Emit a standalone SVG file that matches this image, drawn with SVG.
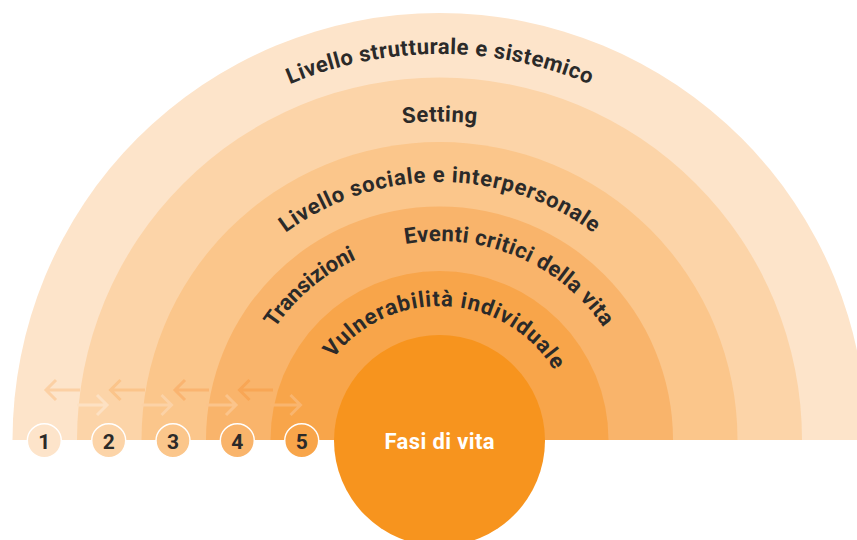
<svg xmlns="http://www.w3.org/2000/svg" xmlns:xlink="http://www.w3.org/1999/xlink" width="857" height="540" viewBox="0 0 857 540">
<style>
.lbl{font-family:Roboto,"Liberation Sans",sans-serif;font-weight:700;font-size:22px;fill:#2b2a29;}
.num{font-family:Roboto,"Liberation Sans",sans-serif;font-weight:700;font-size:21px;fill:#2b2a29;text-anchor:middle;}
.white{fill:#ffffff;}
.arr{fill:none;stroke-width:3;}
.ncirc{stroke:#ffffff;stroke-width:1.5;}
</style>
<defs>
<path id="p1" d="M 53.5,440 A 386 386 0 0 1 825.5,440"/>
<path id="p2" d="M 121,440 A 318.5 318.5 0 0 1 758,440"/>
<path id="p3" d="M 181.5,440 A 258 258 0 0 1 697.5,440"/>
<path id="p4" d="M 240.5,440 A 199 199 0 0 1 638.5,440"/>
<path id="p5" d="M 305.5,440 A 134 134 0 0 1 573.5,440"/>
</defs>
<rect width="857" height="540" fill="#ffffff"/>
<g id="band1"><path d="M 12.5,440 A 427 427 0 0 1 866.5,440 Z" fill="#fde4ca"/>
<text class="lbl"><textPath xlink:href="#p1" href="#p1" startOffset="606.3" text-anchor="middle" textLength="308" lengthAdjust="spacing">Livello strutturale e sistemico</textPath></text></g>
<g id="band2"><path d="M 77,440 A 362.5 362.5 0 0 1 802,440 Z" fill="#fcd4a8"/>
<text class="lbl"><textPath xlink:href="#p2" href="#p2" startOffset="500.3" text-anchor="middle" textLength="74" lengthAdjust="spacing">Setting</textPath></text></g>
<g id="band3"><path d="M 141.5,440 A 298 298 0 0 1 737.5,440 Z" fill="#fbc68b"/>
<text class="lbl"><textPath xlink:href="#p3" href="#p3" startOffset="405.3" text-anchor="middle" textLength="330" lengthAdjust="spacing">Livello sociale e interpersonale</textPath></text></g>
<g id="band4"><path d="M 206,440 A 233.5 233.5 0 0 1 673,440 Z" fill="#f9b46b"/>
<text class="lbl"><textPath xlink:href="#p4" href="#p4" startOffset="172.5" text-anchor="middle" textLength="108" lengthAdjust="spacing">Transizioni</textPath></text>
<text class="lbl"><textPath xlink:href="#p4" href="#p4" startOffset="391.5" text-anchor="middle" textLength="227" lengthAdjust="spacing">Eventi critici della vita</textPath></text></g>
<g id="band5"><path d="M 270.5,440 A 169 169 0 0 1 608.5,440 Z" fill="#f8a54a"/>
<text class="lbl"><textPath xlink:href="#p5" href="#p5" startOffset="217.5" text-anchor="middle" textLength="260" lengthAdjust="spacing">Vulnerabilità individuale</textPath></text></g>
<g id="core"><circle cx="439.5" cy="440.5" r="105.5" fill="#f7941e"/>
<text class="lbl white" x="439.5" y="449" text-anchor="middle" textLength="110" lengthAdjust="spacing">Fasi di vita</text></g>
<g id="connectors">
<g stroke="#fcd0a4" class="arr"><path d="M 46,390 H 80 M 56,380 L 46,390 L 56,400"/></g>
<g stroke="#fbc48a" class="arr"><path d="M 110.5,390 H 145 M 120.5,380 L 110.5,390 L 120.5,400"/></g>
<g stroke="#fab470" class="arr"><path d="M 175,390 H 209 M 185,380 L 175,390 L 185,400"/></g>
<g stroke="#f8a655" class="arr"><path d="M 239.5,390 H 273 M 249.5,380 L 239.5,390 L 249.5,400"/></g>
<g stroke="#fde1c3" class="arr"><path d="M 77,405 H 107 M 97,395 L 107,405 L 97,415"/></g>
<g stroke="#fcd2a6" class="arr"><path d="M 141.5,405 H 171.5 M 161.5,395 L 171.5,405 L 161.5,415"/></g>
<g stroke="#fbc48b" class="arr"><path d="M 206,405 H 236 M 226,395 L 236,405 L 226,415"/></g>
<g stroke="#f9b56e" class="arr"><path d="M 270.5,405 H 300.5 M 290.5,395 L 300.5,405 L 290.5,415"/></g>
</g>
<g id="n1"><circle class="ncirc" cx="44.3" cy="440.7" r="17" fill="#fde4ca"/><text class="num" x="44.3" y="448.5">1</text></g>
<g id="n2"><circle class="ncirc" cx="108.7" cy="440.7" r="17" fill="#fcd4a8"/><text class="num" x="108.7" y="448.5">2</text></g>
<g id="n3"><circle class="ncirc" cx="173" cy="440.7" r="17" fill="#fbc68b"/><text class="num" x="173" y="448.5">3</text></g>
<g id="n4"><circle class="ncirc" cx="237.3" cy="440.7" r="17" fill="#f9b46b"/><text class="num" x="237.3" y="448.5">4</text></g>
<g id="n5"><circle class="ncirc" cx="301.7" cy="440.7" r="17" fill="#f8a54a"/><text class="num" x="301.7" y="448.5">5</text></g>
</svg>
